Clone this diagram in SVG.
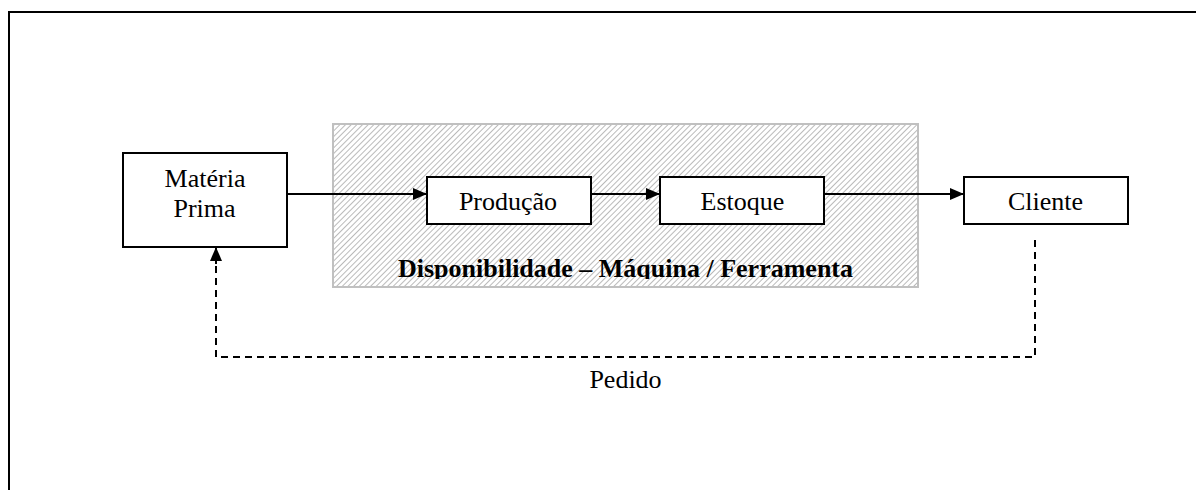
<svg xmlns="http://www.w3.org/2000/svg" width="1196" height="490" viewBox="0 0 1196 490">
<style>
.box{fill:#fff;stroke:#000;stroke-width:2}
.t{font-family:"Liberation Serif","Times New Roman",serif;font-size:26px;fill:#000;text-anchor:middle}
.b{font-weight:bold}
.con{fill:none;stroke:#000;stroke-width:2}
.dash{stroke-dasharray:7 5}
</style>
<defs>
<pattern id="hatch" patternUnits="userSpaceOnUse" width="4" height="4" patternTransform="rotate(45)">
<rect width="4" height="4" fill="#fff"/>
<line x1="0" y1="0" x2="0" y2="4" stroke="#a8a8a8" stroke-width="1.6"/>
</pattern>
<marker id="ah" viewBox="0 0 14 12" refX="14" refY="6" markerWidth="14" markerHeight="12" markerUnits="userSpaceOnUse" orient="auto">
<path d="M0,0 L14,6 L0,12 z" fill="#000"/>
</marker>
<clipPath id="clipArea"><rect x="333" y="124" width="585" height="155"/></clipPath>
</defs>
<rect width="1196" height="490" fill="#fff"/>
<path d="M9,490 V12 H1196" fill="none" stroke="#000" stroke-width="2"/>
<g id="area">
<rect x="333" y="124" width="585" height="163" fill="url(#hatch)" stroke="#c0c0c0" stroke-width="2"/>
<text class="t b" x="625.5" y="277" clip-path="url(#clipArea)">Disponibilidade – Máquina / Ferramenta</text>
</g>
<g id="connectors">
<line class="con" x1="287" y1="194" x2="427" y2="194" marker-end="url(#ah)"/>
<line class="con" x1="591" y1="194" x2="660" y2="194" marker-end="url(#ah)"/>
<line class="con" x1="824" y1="194" x2="964" y2="194" marker-end="url(#ah)"/>
<path class="con dash" d="M1035,240 V357 H216 V264"/>
<line class="con" x1="216" y1="264" x2="216" y2="247" marker-end="url(#ah)"/>
<text class="t" x="625.5" y="388">Pedido</text>
</g>
<g id="materia">
<rect class="box" x="123" y="153" width="164" height="94"/>
<text class="t" x="205" y="187">Matéria</text>
<text class="t" x="204.5" y="217">Prima</text>
</g>
<g id="producao">
<rect class="box" x="427" y="177" width="164" height="47"/>
<text class="t" x="508" y="210">Produção</text>
</g>
<g id="estoque">
<rect class="box" x="660" y="177" width="164" height="47"/>
<text class="t" x="742.5" y="210">Estoque</text>
</g>
<g id="cliente">
<rect class="box" x="964" y="177" width="164" height="47"/>
<text class="t" x="1045.5" y="210">Cliente</text>
</g>
</svg>
